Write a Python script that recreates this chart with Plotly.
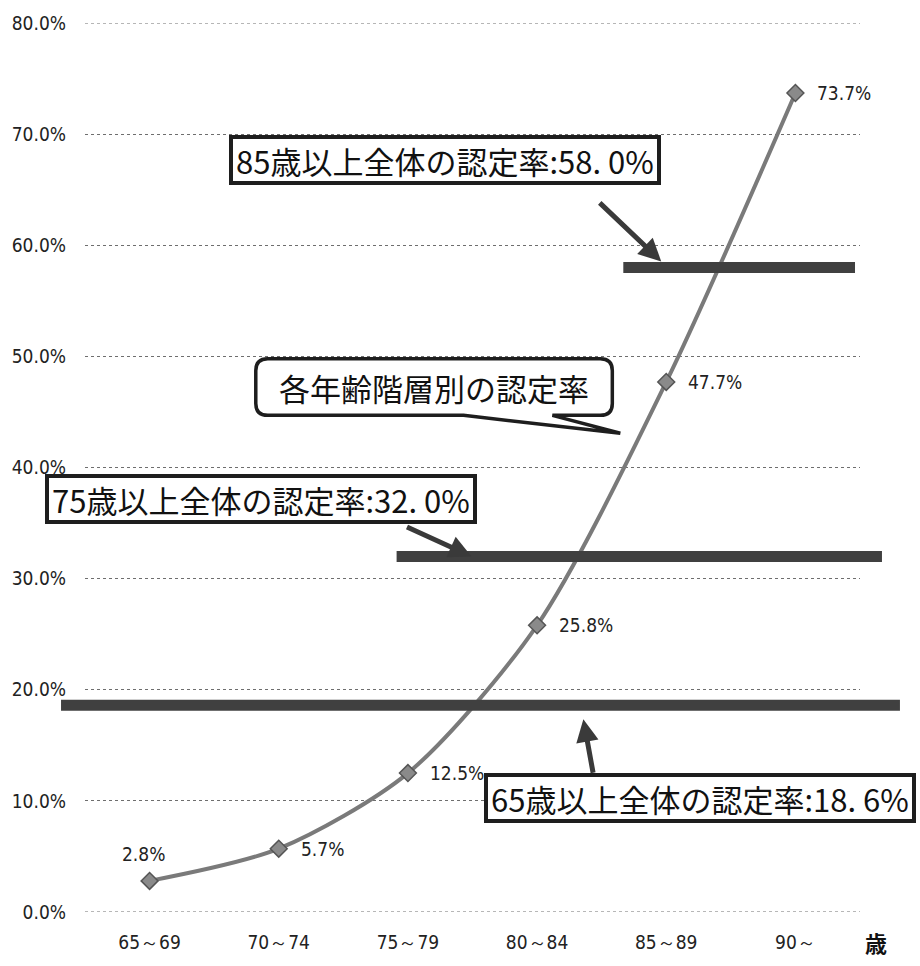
import plotly.graph_objects as go

# 要介護(要支援)認定率 by age group
age_groups = ["65～69", "70～74", "75～79", "80～84", "85～89", "90～"]
rates = [2.8, 5.7, 12.5, 25.8, 47.7, 73.7]

# overall rates for the 65+, 75+ and 85+ populations
overall_labels = ["65歳以上全体の認定率:18. 6%", "75歳以上全体の認定率:32. 0%", "85歳以上全体の認定率:58. 0%"]
overall_rates = [18.6, 32.0, 58.0]

y_ticks = [0, 10, 20, 30, 40, 50, 60, 70, 80]

W, H = 920, 966
L, R, T, B = 84, 60, 17, 54
PW, PH = W - L - R, H - T - B

def px(xpix):
    return (xpix - L) / PW

def py(ypix):
    return (H - B - ypix) / PH

NUM_FONT = "DejaVu Sans Condensed, Liberation Sans Narrow, sans-serif"
JP_FONT = "Noto Sans CJK JP, sans-serif"

fig = go.Figure()

fig.add_trace(go.Scatter(
    x=age_groups, y=rates, mode="lines+markers",
    line=dict(color="#7a7a7a", width=4, shape="spline", smoothing=0.8),
    marker=dict(symbol="diamond", size=13, color="#8a8a8a",
                line=dict(color="#555555", width=1.5)),
    showlegend=False, hoverinfo="skip",
))

annotations = []
# value labels next to each point
for i, (cat, v) in enumerate(zip(age_groups, rates)):
    if i == 0:
        annotations.append(dict(x=cat, y=v, xref="x", yref="y", text=f"{v}%",
                                showarrow=False, xanchor="center", yanchor="bottom",
                                xshift=-6, yshift=14,
                                font=dict(family=NUM_FONT, size=19, color="#222")))
    else:
        annotations.append(dict(x=cat, y=v, xref="x", yref="y", text=f"{v}%",
                                showarrow=False, xanchor="left", yanchor="middle",
                                xshift=20,
                                font=dict(family=NUM_FONT, size=19, color="#222")))

shapes = []
# dotted grid lines at the two ends of the value range
for v in (y_ticks[0], y_ticks[-1]):
    shapes.append(dict(type="line", xref="paper", yref="y", x0=0, x1=1, y0=v, y1=v,
                       line=dict(color="#6e6e6e", width=1, dash="dot"), layer="below"))

# thick reference bars for the overall rates (x extents in paper space)
bar_extents = [(60, 900), (396, 882), (623, 855)]
for (x0, x1), v in zip(bar_extents, overall_rates):
    shapes.append(dict(type="line", xref="paper", yref="y",
                       x0=px(x0), x1=px(x1), y0=v, y1=v,
                       line=dict(color="#404040", width=11), layer="above"))

# boxed captions for the overall rates
box_centers = [(700, 797), (260, 496), (444, 155)]
for (cx, cy), txt in zip(box_centers, overall_labels):
    annotations.append(dict(x=px(cx), y=py(cy), xref="paper", yref="paper",
                            text=txt, showarrow=False, xanchor="center", yanchor="middle",
                            height=36, valign="middle",
                            bgcolor="white", bordercolor="#1e1e1e", borderwidth=4, borderpad=3,
                            font=dict(family=JP_FONT, size=31, color="#111")))

# arrows from captions to bars: (tail, head)
arrows = [((593, 773), (583, 718)), ((405, 524), (471, 554)), ((598, 197), (661, 257))]
for (tx, ty), (hx, hy) in arrows:
    annotations.append(dict(x=px(hx), y=py(hy), xref="paper", yref="paper",
                            ax=tx - hx, ay=ty - hy, text="", showarrow=True,
                            arrowhead=2, arrowsize=0.9, arrowwidth=5, arrowcolor="#3a3a3a"))

# speech bubble for the per-age-group line
bx0, bx1, by0, by1, r = 255, 612, 355, 412, 12
t0, t1, tipx, tipy = 463, 552, 620, 430
def P(x, y):
    return f"{px(x):.5f},{py(y):.5f}"
bubble = (
    f"M {P(bx0 + r, by0)} L {P(bx1 - r, by0)} Q {P(bx1, by0)} {P(bx1, by0 + r)} "
    f"L {P(bx1, by1 - r)} Q {P(bx1, by1)} {P(bx1 - r, by1)} "
    f"L {P(t1, by1)} L {P(tipx, tipy)} L {P(t0, by1)} "
    f"L {P(bx0 + r, by1)} Q {P(bx0, by1)} {P(bx0, by1 - r)} "
    f"L {P(bx0, by0 + r)} Q {P(bx0, by0)} {P(bx0 + r, by0)} Z"
)
shapes.append(dict(type="path", xref="paper", yref="paper", path=bubble,
                   fillcolor="white", line=dict(color="#1e1e1e", width=3.5), layer="above"))
annotations.append(dict(x=px((bx0 + bx1) / 2), y=py((by0 + by1) / 2), xref="paper", yref="paper",
                        text="各年齢階層別の認定率", showarrow=False,
                        xanchor="center", yanchor="middle",
                        font=dict(family=JP_FONT, size=31, color="#111")))

# unit label for the category axis
annotations.append(dict(x=px(876), y=py(942), xref="paper", yref="paper",
                        text="<b>歳</b>", showarrow=False, xanchor="center", yanchor="middle",
                        font=dict(family=JP_FONT, size=22, color="#111")))

fig.update_layout(
    width=W, height=H,
    margin=dict(l=L, r=R, t=T, b=B),
    paper_bgcolor="white", plot_bgcolor="white",
    shapes=shapes, annotations=annotations,
    xaxis=dict(type="category", range=[-0.5, len(age_groups) - 0.5],
               showgrid=False, zeroline=False, showline=False,
               ticks="", ticklabelstandoff=17,
               tickfont=dict(family=NUM_FONT, size=19, color="#222")),
    yaxis=dict(range=[y_ticks[0], y_ticks[-1]], tickvals=y_ticks,
               ticktext=[f"{v:.1f}%" for v in y_ticks],
               showgrid=True, gridcolor="#6e6e6e", griddash="dot", gridwidth=1,
               zeroline=False, showline=False, ticks="", ticklabelstandoff=18,
               tickfont=dict(family=NUM_FONT, size=19, color="#222")),
)

fig.write_html("out.html")
